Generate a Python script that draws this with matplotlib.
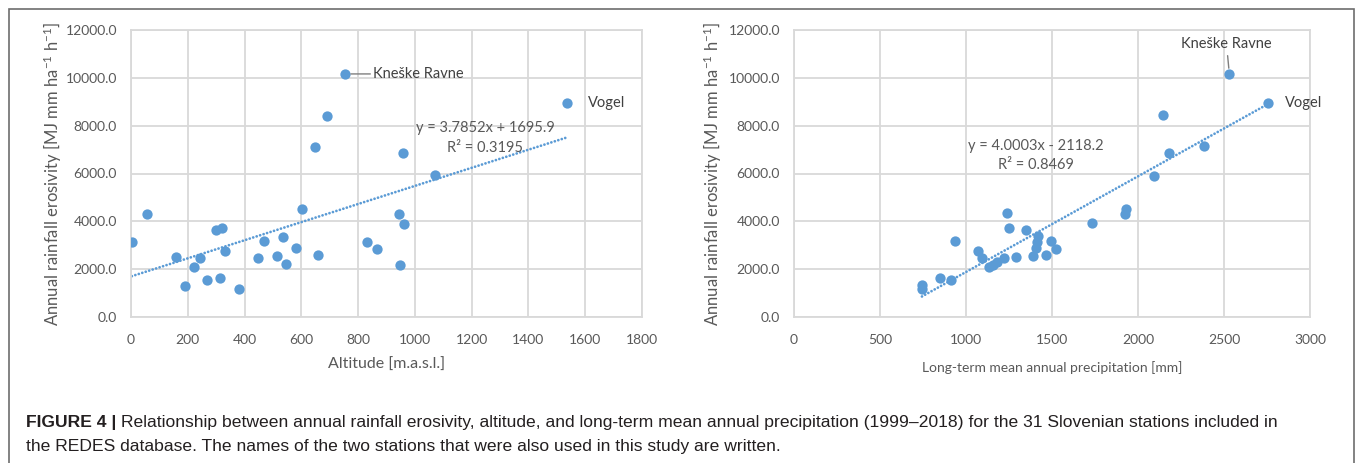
import matplotlib
matplotlib.use("Agg")
import matplotlib.pyplot as plt
from matplotlib.patches import Rectangle
import numpy as np

# ---------------- data ----------------
erosivity_alt = [1183, 1309, 1559, 1615, 2102, 2186, 2228, 2450, 2450, 2492, 2534, 2576,
                 2743, 2840, 2882, 3132, 3146, 3188, 3355, 3620, 3703, 3884, 4316, 4316,
                 4511, 5917, 6863, 7128, 8409, 8966, 10163]
altitude = [382, 189, 267, 312, 222, 947, 546, 244, 446, 159, 516, 660,
            330, 866, 582, 833, 3, 469, 535, 301, 322, 961, 57, 943,
            604, 1070, 958, 649, 691, 1537, 755]

erosivity_prec = [1190, 1330, 1554, 1624, 2100, 2180, 2282, 2449, 2449, 2518, 2547, 2589,
                  2770, 2840, 2869, 3120, 3163, 3189, 3386, 3637, 3721, 3931, 4351, 4326,
                  4521, 5902, 6865, 7144, 8428, 8966, 10172]
precipitation = [744, 744, 911, 850, 1135, 1155, 1180, 1092, 1221, 1288, 1388, 1463,
                 1067, 1523, 1409, 1413, 938, 1496, 1417, 1348, 1250, 1733, 1238, 1925,
                 1931, 2095, 2179, 2384, 2143, 2755, 2531]

fit_alt = (3.7852, 1695.9, 0.3195)
fit_prec = (4.0003, -2118.2, 0.8469)

station_kneske = "Kneške Ravne"
station_vogel = "Vogel"
kneske_idx = 30
vogel_idx = 29

alt_ticks = list(range(0, 1801, 200))
prec_ticks = list(range(0, 3001, 500))
ero_ticks = list(range(0, 12001, 2000))

caption_bold = "FIGURE 4 | "
caption_line1 = ("Relationship between annual rainfall erosivity, altitude, and long-term mean annual "
                 "precipitation (1999\u20132018) for the 31 Slovenian stations included in")
caption_line2 = "the REDES database. The names of the two stations that were also used in this study are written."

# ---------------- style ----------------
plt.rcParams['font.family'] = ['Lato', 'DejaVu Sans']
plt.rcParams['mathtext.fontset'] = 'custom'
plt.rcParams['mathtext.rm'] = 'Lato'
plt.rcParams['mathtext.it'] = 'Lato'
plt.rcParams['mathtext.default'] = 'regular'

BLUE = '#5B9BD5'
GRID = '#D9D9D9'
TXT = '#595959'

W, H = 1357, 463
fig = plt.figure(figsize=(W / 100, H / 100), dpi=100)

# outer frame
fig.patches.append(Rectangle((9 / W, -0.05), (1354 - 9) / W, 1.05 - 9 / H,
                             transform=fig.transFigure, fill=False,
                             edgecolor='#6d6d6d', linewidth=1.2))

ax1 = fig.add_axes([131 / W, 1 - 317 / H, 511 / W, 287 / H])
ax2 = fig.add_axes([794 / W, 1 - 317 / H, 516 / W, 287 / H])

ylabel = "Annual rainfall erosivity [MJ mm ha$^{-1}$ h$^{-1}$]"
DOT = (0, (0.01, 1.3))


def style(ax, xt, xlim):
    ax.set_xlim(*xlim)
    ax.set_ylim(0, 12000)
    ax.set_xticks(xt)
    ax.set_xticklabels([str(v) for v in xt])
    ax.set_yticks(ero_ticks)
    ax.set_yticklabels([f"{v:.1f}" for v in ero_ticks])
    ax.grid(True, color=GRID, linewidth=1.3)
    ax.set_axisbelow(True)
    for s in ax.spines.values():
        s.set_color(GRID)
        s.set_linewidth(1.3)
    ax.tick_params(length=0, labelsize=10, colors=TXT, pad=10)
    ax.tick_params(axis='x', pad=12)


# ---- left panel ----
style(ax1, alt_ticks, (0, 1800))
ax1.scatter(altitude, erosivity_alt, s=55, color=BLUE, zorder=3, linewidths=0)
xa = np.array([min(altitude), max(altitude)])
ax1.plot(xa, fit_alt[0] * xa + fit_alt[1], color=BLUE, lw=2.0,
         linestyle=DOT, dash_capstyle='round', zorder=2)
ax1.set_ylabel(ylabel, fontsize=12, color=TXT, labelpad=1)
ax1.set_xlabel("Altitude [m.a.s.l.]", fontsize=11.5, color=TXT, labelpad=9)
kx, ky = altitude[kneske_idx], erosivity_alt[kneske_idx]
ax1.annotate(station_kneske, xy=(kx, ky), xytext=(20, 0), textcoords='offset points',
             va='center', ha='left', fontsize=10.5, color='#404040',
             arrowprops=dict(arrowstyle='-', color='#7f7f7f', lw=1, shrinkA=0, shrinkB=4))
ax1.annotate(station_vogel, xy=(altitude[vogel_idx], erosivity_alt[vogel_idx]),
             xytext=(15, 0), textcoords='offset points', va='center', ha='left',
             fontsize=10.5, color='#404040')
ax1.text(1247, 7900, f"y = {fit_alt[0]:.4f}x + {fit_alt[1]:.1f}", ha='center', va='center',
         fontsize=10.5, color=TXT)
ax1.text(1247, 7070, f"R\u00b2 = {fit_alt[2]:.4f}", ha='center', va='center',
         fontsize=10.5, color=TXT)

# ---- right panel ----
style(ax2, prec_ticks, (0, 3000))
ax2.scatter(precipitation, erosivity_prec, s=55, color=BLUE, zorder=3, linewidths=0)
xp = np.array([min(precipitation), max(precipitation)])
ax2.plot(xp, fit_prec[0] * xp + fit_prec[1], color=BLUE, lw=2.0,
         linestyle=DOT, dash_capstyle='round', zorder=2)
ax2.set_ylabel(ylabel, fontsize=12, color=TXT, labelpad=3)
ax2.set_xlabel("Long-term mean annual precipitation [mm]", fontsize=10, color=TXT, labelpad=11)
kx2, ky2 = precipitation[kneske_idx], erosivity_prec[kneske_idx]
ax2.annotate(station_kneske, xy=(kx2, ky2), xytext=(-2, 16), textcoords='offset points',
             va='bottom', ha='center', fontsize=10.5, color='#404040',
             arrowprops=dict(arrowstyle='-', color='#7f7f7f', lw=1, shrinkA=1, shrinkB=4))
ax2.annotate(station_vogel, xy=(precipitation[vogel_idx], erosivity_prec[vogel_idx]),
             xytext=(12, 0), textcoords='offset points', va='center', ha='left',
             fontsize=10.5, color='#404040')
ax2.text(1405, 7150, f"y = {fit_prec[0]:.4f}x - {abs(fit_prec[1]):.1f}", ha='center', va='center',
         fontsize=10.5, color=TXT)
ax2.text(1405, 6370, f"R\u00b2 = {fit_prec[2]:.4f}", ha='center', va='center',
         fontsize=10.5, color=TXT)

# ---- caption ----
CAP = '#231f20'
cap_fs = 12.6
CAPFAM = ['Liberation Sans', 'DejaVu Sans']
fig.canvas.draw()
r = fig.canvas.get_renderer()
t0 = fig.text(26 / W, 1 - 427 / H, caption_bold, fontsize=cap_fs, fontweight='bold',
              family=CAPFAM, color=CAP, va='baseline', ha='left')
bb = t0.get_window_extent(renderer=r)
fig.text(bb.x1 / W, 1 - 427 / H, caption_line1, fontsize=cap_fs,
         family=CAPFAM, color=CAP, va='baseline', ha='left')
fig.text(26 / W, 1 - 451 / H, caption_line2, fontsize=cap_fs,
         family=CAPFAM, color=CAP, va='baseline', ha='left')

fig.savefig("out.png", dpi=100)
